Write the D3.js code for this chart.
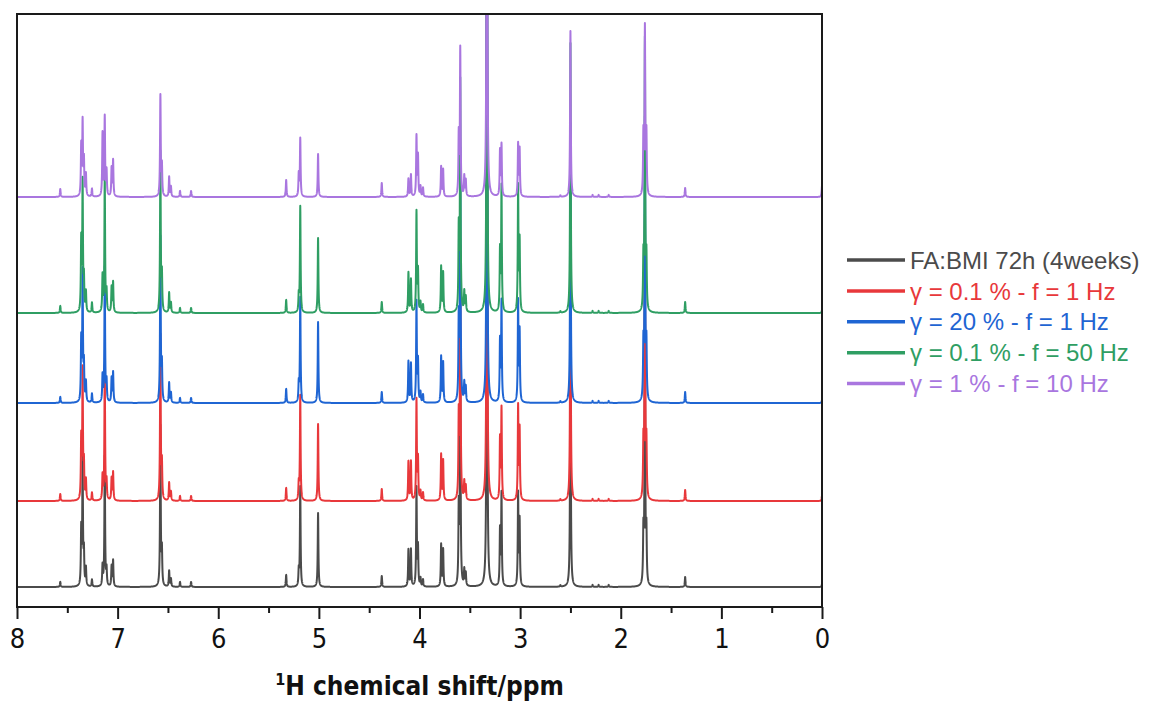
<!DOCTYPE html>
<html>
<head>
<meta charset="utf-8">
<script src="https://cdn.jsdelivr.net/npm/d3@7"></script>
<style>
  body { margin: 0; background: #fff; }
  svg { display: block; }
</style>
</head>
<body>
<div class="graph"></div>
<script>
// peak list (ppm) and the peak heights for each spectrum
const shifts = [7.57, 7.362, 7.348, 7.335, 7.315, 7.255, 7.15, 7.128, 7.11, 7.06, 7.045,
    6.575, 6.56, 6.488, 6.47, 6.38, 6.27, 5.325, 5.20, 5.185, 5.008, 4.375,
    4.11, 4.085, 4.03, 4.015, 3.99, 3.965, 3.785, 3.765, 3.61, 3.595, 3.555, 3.54,
    3.33, 3.20, 3.185, 3.02, 3.005, 2.60, 2.50, 2.28, 2.22, 2.12,
    1.775, 1.76, 1.745, 1.36, 0.0];

const hBlack  = [5, 55, 125, 32, 18, 7, 20, 130, 16, 20, 26, 160, 34, 16, 8, 5, 5, 12, 15, 100, 74, 11,
    37, 37, 98, 38, 8, 7, 42, 37, 75, 240, 16, 13, 600, 55, 92, 92, 65, 1.5, 280, 2, 2, 2, 50, 280, 50, 10, 3];
const hRed    = [7, 60, 128, 34, 20, 8, 24, 135, 18, 22, 28, 165, 35, 18, 9, 5, 5, 13, 16, 105, 77, 12,
    39, 39, 100, 40, 9, 8, 46, 40, 80, 250, 18, 14, 600, 60, 91, 93, 70, 1.5, 280, 2, 2, 2, 53, 280, 53, 11, 5];
const hBlue   = [6, 60, 128, 35, 20, 9, 26, 135, 20, 24, 30, 165, 36, 20, 10, 5, 5, 14, 18, 105, 81, 11,
    41, 39, 100, 40, 10, 8, 46, 40, 80, 250, 19, 15, 600, 60, 100, 100, 70, 1.5, 280, 2, 2, 2, 53, 280, 53, 11, 3];
const hGreen  = [7, 70, 128, 31, 20, 10, 36, 135, 20, 25, 30, 160, 36, 20, 10, 5, 5, 13, 16, 106, 75, 11,
    40, 33, 100, 40, 10, 8, 46, 40, 80, 230, 20, 15, 600, 60, 125, 125, 70, 1.5, 270, 2, 2, 2, 50, 270, 50, 11, 3];
const hPurple = [8, 50, 73, 35, 22, 8, 63, 79, 25, 28, 36, 101, 30, 20, 10, 6, 6, 17, 22, 58, 43, 14,
    18, 22, 60, 40, 10, 9, 30, 27, 60, 147, 20, 16, 600, 45, 51, 52, 47, 1.5, 166, 2, 2, 2, 60, 166, 60, 9, 11];

const seriesNames = ["FA:BMI 72h (4weeks)", "γ = 0.1 % - f = 1 Hz", "γ = 20 % - f = 1 Hz",
    "γ = 0.1 % - f = 50 Hz", "γ = 1 % - f = 10 Hz"];
const seriesHeights = [hBlack, hRed, hBlue, hGreen, hPurple];
const xTicks = [8, 7, 6, 5, 4, 3, 2, 1, 0];
const xMinorTicks = [7.5, 6.5, 5.5, 4.5, 3.5, 2.5, 1.5, 0.5];

// drawing setup
const colors = ["#4b4b4b", "#e8383b", "#1f65d3", "#2f9e63", "#a976df"];
const stackOffset = [0, 86, 184, 274, 390];
const halfWidth = 0.004;

const W = 1156, H = 702;
const plot = {left: 17, right: 822, top: 14, bottom: 607};

const svg = d3.select(".graph").append("svg")
    .attr("width", W).attr("height", H);

const x = d3.scaleLinear().domain([8, 0]).range([plot.left, plot.right]);
const y = d3.scaleLinear().domain([-20, 573]).range([plot.bottom, plot.top]);

svg.append("clipPath").attr("id", "clip")
    .append("rect")
    .attr("x", plot.left).attr("y", plot.top)
    .attr("width", plot.right - plot.left).attr("height", plot.bottom - plot.top);

// sample grid plus the peak centres so tips are hit exactly
let grid = d3.range(0, 8.0005, 0.001).concat(shifts);
grid.sort((a, b) => a - b);

let spectrum = (heights) => grid.map(p => {
    let s = 0;
    for (let i = 0; i < shifts.length; i++) {
        let d = p - shifts[i];
        s += heights[i] * halfWidth * halfWidth / (halfWidth * halfWidth + d * d);
    }
    return [p, s];
});

let line = d3.line()
    .x(d => x(d[0]))
    .y(d => y(d[1]));

svg.append("g")
    .attr("clip-path", "url(#clip)")
    .selectAll("path")
    .data(seriesHeights)
    .join("path")
    .attr("fill", "none")
    .attr("stroke", (d, i) => colors[i])
    .attr("stroke-width", 2)
    .attr("stroke-linejoin", "round")
    .attr("d", (d, i) => line(spectrum(d).map(v => [v[0], v[1] + stackOffset[i]])));

// frame
svg.append("rect")
    .attr("x", plot.left).attr("y", plot.top)
    .attr("width", plot.right - plot.left).attr("height", plot.bottom - plot.top)
    .attr("fill", "none").attr("stroke", "#1a1a1a").attr("stroke-width", 2);

// x axis, major and minor ticks
let axisFont = "'Liberation Sans Narrow', 'Arial Narrow', 'DejaVu Sans Condensed', sans-serif";

let gx = svg.append("g")
    .attr("transform", "translate(0," + plot.bottom + ")")
    .call(d3.axisBottom(x).tickValues(xTicks).tickSize(12).tickSizeOuter(0).tickPadding(10)
        .tickFormat(d3.format("d")));
gx.select(".domain").remove();
gx.selectAll(".tick line").attr("stroke", "#1a1a1a").attr("stroke-width", 2);
gx.selectAll(".tick text")
    .attr("fill", "#111")
    .style("font-family", axisFont)
    .style("font-size", "27px");

let gm = svg.append("g")
    .attr("transform", "translate(0," + plot.bottom + ")")
    .call(d3.axisBottom(x).tickValues(xMinorTicks).tickSize(6).tickSizeOuter(0).tickFormat(""));
gm.select(".domain").remove();
gm.selectAll(".tick line").attr("stroke", "#1a1a1a").attr("stroke-width", 2);

// axis title
let title = svg.append("text")
    .attr("x", (plot.left + plot.right) / 2)
    .attr("y", 695)
    .attr("text-anchor", "middle")
    .attr("fill", "#111")
    .style("font-family", axisFont)
    .style("font-weight", "bold")
    .style("font-size", "26px");
title.append("tspan").text("1").style("font-size", "16px").attr("dy", -10);
title.append("tspan").text("H chemical shift/ppm").attr("dy", 10);

// legend
let legend = svg.append("g").selectAll("g")
    .data(seriesNames)
    .join("g")
    .attr("transform", (d, i) => "translate(847," + (260 + i * 30.9) + ")");

legend.append("line")
    .attr("x1", 0).attr("x2", 58)
    .attr("stroke", (d, i) => colors[i])
    .attr("stroke-width", 3.5);

legend.append("text")
    .attr("x", 63)
    .attr("dy", "0.36em")
    .attr("fill", (d, i) => colors[i])
    .style("font-family", "'Liberation Sans', Arial, sans-serif")
    .style("font-size", "24px")
    .text(d => d);
</script>
</body>
</html>
